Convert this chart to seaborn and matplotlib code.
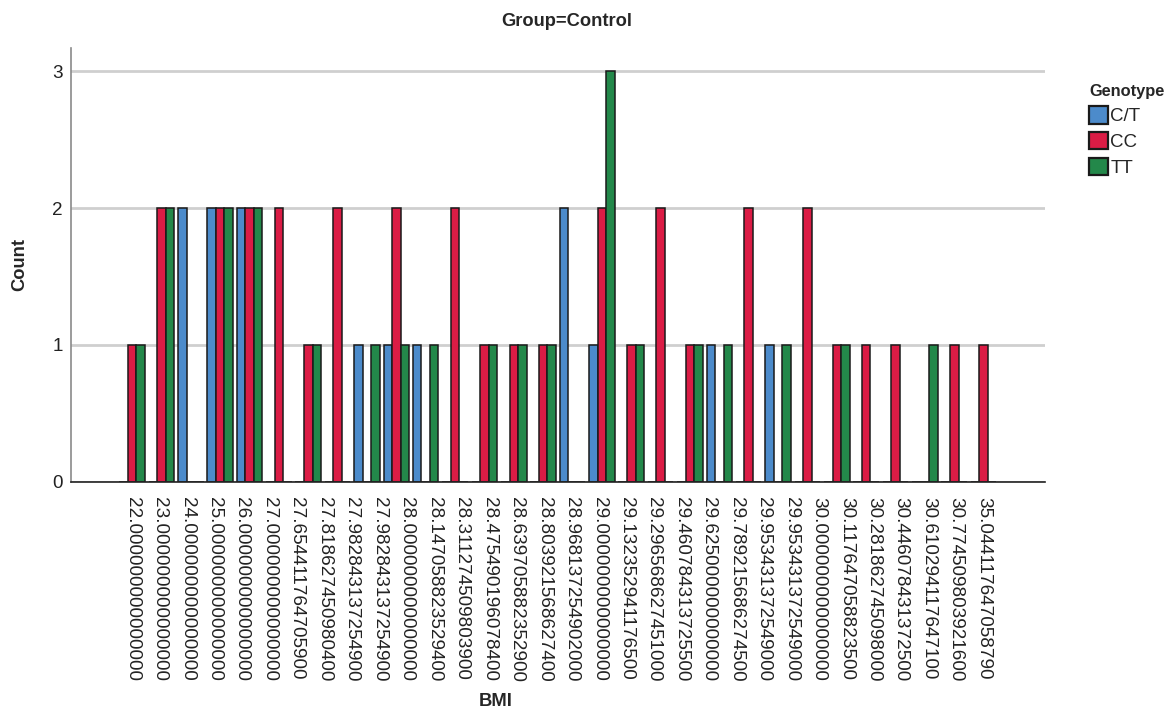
import numpy as np
import pandas as pd
import matplotlib
matplotlib.use('Agg')
import matplotlib.pyplot as plt
import seaborn as sns

# axis labels as printed under the chart (32 of them)
BMI_LABELS = [
    '22.000000000000000', '23.000000000000000', '24.000000000000000',
    '25.000000000000000', '26.000000000000000', '27.000000000000000',
    '27.654411764705900', '27.818627450980400', '27.982843137254900',
    '27.982843137254900', '28.000000000000000', '28.147058823529400',
    '28.311274509803900', '28.475490196078400', '28.639705882352900',
    '28.803921568627400', '28.968137254902000', '29.000000000000000',
    '29.132352941176500', '29.296568627451000', '29.460784313725500',
    '29.625000000000000', '29.789215686274500', '29.953431372549000',
    '29.953431372549000', '30.000000000000000', '30.117647058823500',
    '30.281862745098000', '30.446078431372500', '30.610294117647100',
    '30.774509803921600', '35.044117647058790',
]

# bar clusters as drawn (30 clusters), counts per genotype
GENOTYPES = ['C/T', 'CC', 'TT']
COUNT_CT = [0, 0, 2, 2, 2, 0, 0, 0, 1, 1, 1, 0, 0, 0, 0,
            2, 1, 0, 0, 0, 1, 0, 1, 0, 0, 0, 0, 0, 0, 0]
COUNT_CC = [1, 2, 0, 2, 2, 2, 1, 2, 0, 2, 0, 2, 1, 1, 1,
            0, 2, 1, 2, 1, 0, 2, 0, 2, 1, 1, 1, 0, 1, 1]
COUNT_TT = [1, 2, 0, 2, 2, 0, 1, 0, 1, 1, 1, 0, 1, 1, 1,
            0, 3, 1, 0, 1, 1, 0, 1, 0, 1, 0, 0, 1, 0, 0]
COLORS = ['#4C8BCB', '#DB1C45', '#23884A']

CLUSTERS = [str(i) for i in range(len(COUNT_CC))]

df = pd.DataFrame({
    'cluster': CLUSTERS * 3,
    'Genotype': np.repeat(GENOTYPES, len(CLUSTERS)),
    'Count': COUNT_CT + COUNT_CC + COUNT_TT,
})

sns.set_theme(style='white')
plt.rcParams['font.family'] = ['Liberation Sans', 'DejaVu Sans']
FS = 13.6

fig = plt.figure(figsize=(11.64, 7.15), dpi=100)
ax = fig.add_axes([0.061, 0.326, 0.837, 0.607])

sns.barplot(data=df, x='cluster', y='Count', hue='Genotype', order=CLUSTERS,
            hue_order=GENOTYPES, palette=COLORS, saturation=1, width=0.87,
            edgecolor='#1a1a1a', linewidth=1.1, ax=ax)

ax.set_xlim(-2.08, 31.1)
ax.set_ylim(0, 3.17)
ax.set_yticks([0, 1, 2, 3])
ax.set_yticklabels(['0', '1', '2', '3'], fontsize=FS, color='#222222')
ax.set_xticks(np.linspace(0, len(CLUSTERS) - 1, len(BMI_LABELS)))
ax.set_xticklabels(BMI_LABELS, rotation=-90, fontsize=FS, color='#222222')
ax.tick_params(axis='x', length=0, pad=11)
ax.tick_params(axis='y', length=0, pad=6)

ax.yaxis.grid(True, color='#cfcfcf', linewidth=2)
ax.set_axisbelow(True)
for s in ['top', 'right']:
    ax.spines[s].set_visible(False)
ax.spines['left'].set_color('#8a8a8a')
ax.spines['left'].set_linewidth(1.2)
ax.spines['bottom'].set_color('#222222')
ax.spines['bottom'].set_linewidth(1.2)

ax.set_xlabel('BMI', fontsize=13.2, fontweight='bold')
ax.xaxis.set_label_coords(0.436, -0.487)
ax.set_ylabel('Count', fontsize=13.2, fontweight='bold', labelpad=17)
fig.text(0.487, 1 - 22 / 715, 'Group=Control', fontsize=13.2, fontweight='bold',
         ha='center', va='center')

handles, labels = ax.get_legend_handles_labels()
ax.get_legend().remove()
leg = ax.legend(handles, labels, title='Genotype', loc='upper left',
                bbox_to_anchor=(1080 / 1164, 1 - 75 / 715),
                bbox_transform=fig.transFigure, frameon=False,
                fontsize=13.5, title_fontproperties={'weight': 'bold', 'size': 11.8},
                handlelength=1.0, handleheight=1.05, handletextpad=0.12,
                labelspacing=0.36, borderpad=0)
leg._legend_box.align = 'left'
for h in leg.legend_handles:
    h.set_linewidth(1.6)

fig.savefig('out.png', dpi=100)
